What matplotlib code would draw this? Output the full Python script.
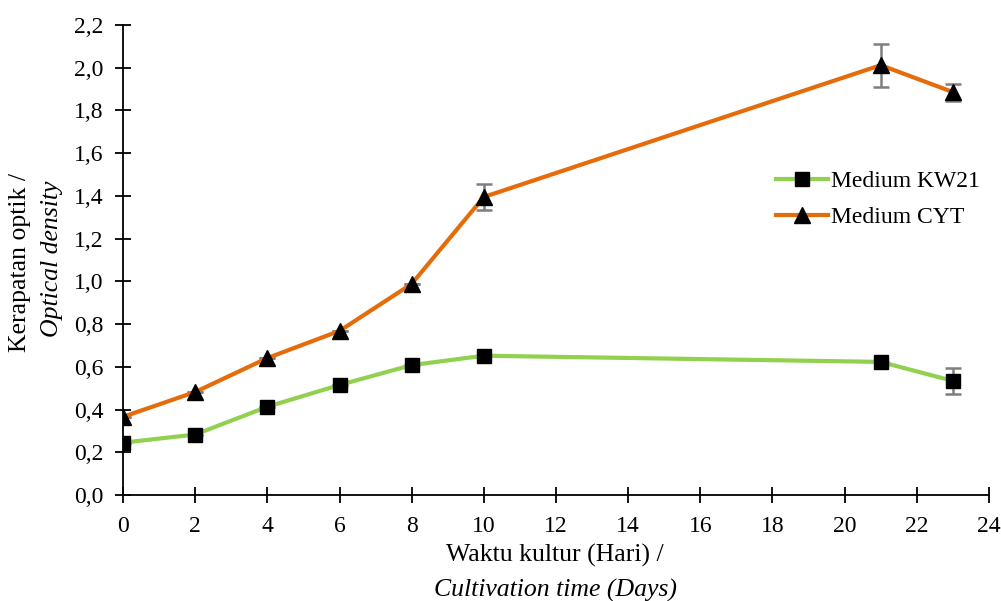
import matplotlib
matplotlib.use("Agg")
import matplotlib.pyplot as plt

days = [0, 2, 4, 6, 8, 10, 21, 23]
kw21 = [0.245, 0.283, 0.413, 0.515, 0.608, 0.652, 0.623, 0.534]
kw21_err = [0, 0, 0, 0, 0, 0, 0, 0.06]
cyt = [0.366, 0.482, 0.641, 0.768, 0.988, 1.395, 2.012, 1.886]
cyt_err = [0, 0, 0, 0, 0, 0.06, 0.10, 0.04]

plt.rcParams['font.family'] = 'serif'
plt.rcParams['font.serif'] = ['Liberation Serif', 'DejaVu Serif']

fig = plt.figure(figsize=(10.01, 6.01), dpi=100)
ax = fig.add_axes([123 / 1001, 1 - 495 / 601, 866 / 1001, 470 / 601])

ax.errorbar(days, kw21, yerr=kw21_err, color="#92D050", lw=3, marker="s",
            ms=10, mfc="black", mec="black", ecolor="#7f7f7f", elinewidth=1.8,
            capsize=6, capthick=1.8, label="Medium KW21", zorder=3)
ax.errorbar(days, cyt, yerr=cyt_err, color="#E46C0A", lw=3, marker="^",
            ms=12, mfc="black", mec="black", ecolor="#7f7f7f", elinewidth=1.8,
            capsize=6, capthick=1.8, label="Medium CYT", zorder=3)

ax.set_xlim(0, 24)
ax.set_ylim(0, 2.2)
ax.set_xticks(range(0, 25, 2))
yt = [i / 10 for i in range(0, 23, 2)]
ax.set_yticks(yt)
ax.set_yticklabels([f"{v:.1f}".replace(".", ",") for v in yt])
ax.tick_params(direction="inout", length=12, width=1.3, labelsize=17)
ax.tick_params(axis="y", pad=8)
ax.tick_params(axis="x", pad=9)
for s in ["top", "right"]:
    ax.spines[s].set_visible(False)
for s in ["left", "bottom"]:
    ax.spines[s].set_linewidth(1.3)
ax.spines["left"].set_zorder(5)

handles, labels = ax.get_legend_handles_labels()
handles = [h[0] for h in handles]
ax.legend(handles, labels, loc="upper left", bbox_to_anchor=(0.73, 0.735),
          frameon=False, fontsize=17, handlelength=2.2, handletextpad=0.1,
          labelspacing=0.6)

fig.text(20 / 1001, 1 - 262 / 601, "Kerapatan optik /", rotation=90,
         fontsize=18.5, ha="center", va="center")
fig.text(52 / 1001, 1 - 259 / 601, "Optical density", rotation=90,
         fontsize=18.5, style="italic", ha="center", va="center")
fig.text(555 / 1001, 1 - 555 / 601, "Waktu kultur (Hari) /", fontsize=18.5,
         ha="center", va="center")
fig.text(555 / 1001, 1 - 590 / 601, "Cultivation time (Days)", fontsize=18.5,
         style="italic", ha="center", va="center")

fig.savefig("out.png", dpi=100)
plt.close(fig)
